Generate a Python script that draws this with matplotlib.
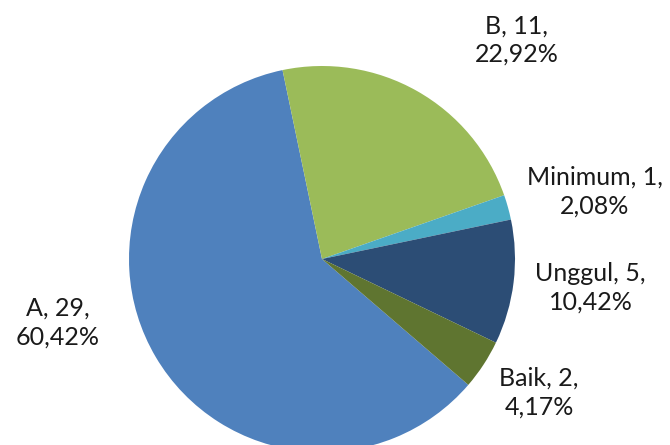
import matplotlib.pyplot as plt

labels = ['A', 'B', 'Minimum', 'Unggul', 'Baik']
counts = [29, 11, 1, 5, 2]
colors = ['#4F81BD', '#9BBB59', '#4BACC6', '#2C4D75', '#5F7530']
# label centres in pie units (radius = 1, centre = 0,0)
label_pos = [(-1.371, -0.33), (1.01, 1.134), (1.412, 0.351), (1.392, -0.149), (1.124, -0.691)]

plt.rcParams['font.family'] = ['Lato', 'DejaVu Sans']

fig = plt.figure(figsize=(6.7, 4.45), dpi=100)
cx, cy, r = 322, 259, 193
ax = fig.add_axes([(cx - r) / 670, (445 - cy - r) / 445, 2 * r / 670, 2 * r / 445])

total = sum(counts)
ax.pie(counts, colors=colors, startangle=-40.7, counterclock=False, radius=1,
       wedgeprops={'linewidth': 0})
ax.set_xlim(-1, 1)
ax.set_ylim(-1, 1)
ax.set_aspect('equal')
ax.axis('off')

for name, n, (x, y) in zip(labels, counts, label_pos):
    pct = f"{n / total * 100:.2f}".replace('.', ',')
    ax.text(x, y, f"{name}, {n},\n{pct}%", ha='center', va='center',
            fontsize=18, color='#1a1a1a', linespacing=1.3, clip_on=False)

fig.savefig('out.png', dpi=100)
